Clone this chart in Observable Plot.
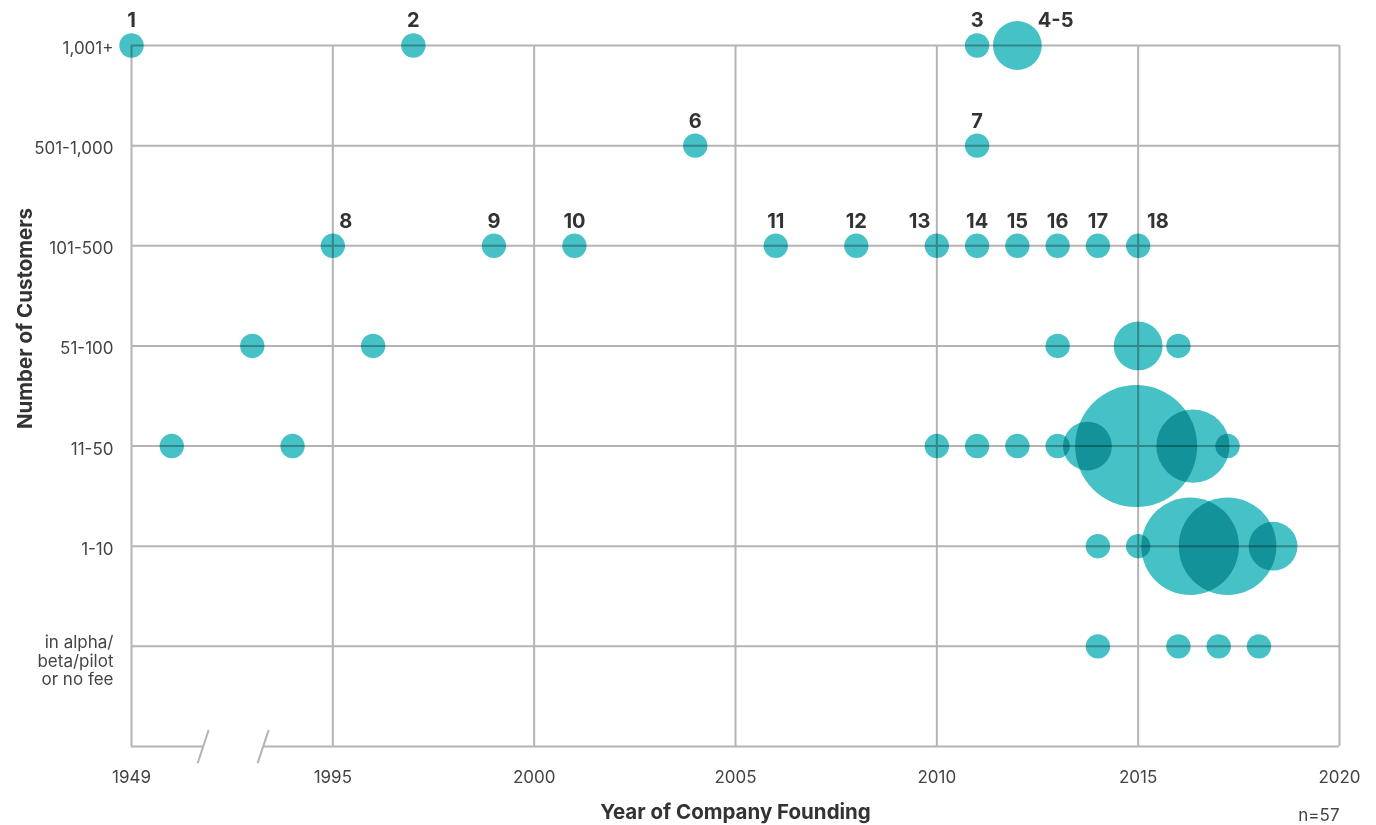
<!DOCTYPE html>
<html><head><meta charset="utf-8">
<script src="https://cdn.jsdelivr.net/npm/d3@7"></script>
<script src="https://cdn.jsdelivr.net/npm/@observablehq/plot@0.6"></script>
<style>
body{margin:0;background:#fff;}
#chart svg{display:block;}
</style>
</head><body><div id="chart"></div>
<script>
// Customer tiers, bottom to top (row index 1..7; 0 is the empty baseline row)
const tiers = ["in alpha/\nbeta/pilot\nor no fee", "1-10", "11-50", "51-100", "101-500", "501-1,000", "1,001+"];

// x axis: broken scale, the leftmost position stands for 1949
const xTickValues = [1990, 1995, 2000, 2005, 2010, 2015, 2020];
const xTickLabels = ["1949", "1995", "2000", "2005", "2010", "2015", "2020"];
const axisBreak = [1991.78, 1993.27];

// Companies (bubble position on the year axis, tier, number of companies)
const pointYear = [
  1990, 1997, 2011, 2012,
  2004, 2011,
  1995, 1999, 2001, 2006, 2008, 2010, 2011, 2012, 2013, 2014, 2015,
  1993, 1996, 2013, 2015, 2016,
  1991, 1994, 2010, 2011, 2012, 2013, 2013.74, 2014.95, 2016.36, 2017.22,
  2014, 2015, 2016.29, 2017.22, 2018.35,
  2014, 2016, 2017, 2018
];
const pointTier = [
  "1,001+", "1,001+", "1,001+", "1,001+",
  "501-1,000", "501-1,000",
  "101-500", "101-500", "101-500", "101-500", "101-500", "101-500", "101-500", "101-500", "101-500", "101-500", "101-500",
  "51-100", "51-100", "51-100", "51-100", "51-100",
  "11-50", "11-50", "11-50", "11-50", "11-50", "11-50", "11-50", "11-50", "11-50", "11-50",
  "1-10", "1-10", "1-10", "1-10", "1-10",
  tiers[0], tiers[0], tiers[0], tiers[0]
];
const pointCount = [
  1, 1, 1, 2,
  1, 1,
  1, 1, 1, 1, 1, 1, 1, 1, 1, 1, 1,
  1, 1, 1, 2, 1,
  1, 1, 1, 1, 1, 1, 2, 5, 3, 1,
  1, 1, 4, 4, 2,
  1, 1, 1, 1
];

// Numbered annotations
const labelText = ["1", "2", "3", "4-5", "6", "7", "8", "9", "10", "11", "12", "13", "14", "15", "16", "17", "18"];
const labelYear = [1990, 1997, 2011, 2012.95, 2004, 2011, 1995.32, 1999, 2001, 2006, 2008, 2009.57, 2011, 2012, 2013, 2014, 2015.49];
const labelTier = ["1,001+", "1,001+", "1,001+", "1,001+", "501-1,000", "501-1,000",
  "101-500", "101-500", "101-500", "101-500", "101-500", "101-500", "101-500", "101-500", "101-500", "101-500", "101-500"];

const totalN = "n=57";

// ---- build tables
const row = t => tiers.indexOf(t) + 1;
const points = pointYear.map((x, i) => ({x, y: row(pointTier[i]), n: pointCount[i]}));
const labels = labelText.map((t, i) => ({t, x: labelYear[i], y: row(labelTier[i])}));
const rowIdx = tiers.map((t, i) => ({t, y: i + 1}));
const ticks = xTickValues.map((v, i) => ({v, t: xTickLabels[i]}));
const baseSegments = [[xTickValues[0], axisBreak[0]], [axisBreak[1], xTickValues[xTickValues.length - 1]]];

const GRID = "#b6b3b3";
const TEAL = "#46c1c6";

const chart = Plot.plot({
  width: 1376,
  height: 825,
  marginLeft: 131,
  marginRight: 37,
  marginTop: 45,
  marginBottom: 79,
  x: {domain: [1990, 2020], axis: null},
  y: {domain: [0, 7], axis: null},
  r: {type: "linear", domain: [0, 5], range: [0, 61]},
  style: {fontFamily: "Inter, Lato, sans-serif", background: "#fff", overflow: "visible"},
  marks: [
    // horizontal grid
    Plot.ruleY(rowIdx, {y: "y", stroke: GRID, strokeWidth: 2}),
    // vertical grid
    Plot.ruleX(ticks, {x: "v", y1: () => 0, y2: () => 7, stroke: GRID, strokeWidth: 2}),
    // broken baseline
    Plot.ruleY(baseSegments, {y: () => 0, x1: d => d[0], x2: d => d[1], stroke: GRID, strokeWidth: 2}),
    Plot.link(axisBreak, {x1: d => d + 0.137, y1: () => 0.166, x2: d => d - 0.137, y2: () => -0.166, stroke: GRID, strokeWidth: 2}),
    // bubbles
    Plot.dot(points, {x: "x", y: "y", r: "n", fill: TEAL, stroke: "none"}),
    // annotations
    Plot.text(labels, {x: "x", y: "y", text: "t", dy: -24.5, fontSize: 20, fontWeight: "bold", fill: "#333"}),
    // y tick labels
    Plot.text(rowIdx.filter(d => d.y > 1), {frameAnchor: "left", y: "y", text: "t", textAnchor: "end", dx: -18, dy: 3, fontSize: 17, fill: "#444"}),
    Plot.text(rowIdx.filter(d => d.y === 1), {frameAnchor: "left", y: "y", text: "t", textAnchor: "end", dx: -18, dy: -11, lineAnchor: "top", lineHeight: 1.08, fontSize: 17, fill: "#444"}),
    // x tick labels
    Plot.text(ticks, {x: "v", y: () => 0, text: "t", lineAnchor: "bottom", dy: 36, fontSize: 17, fill: "#444"}),
    // axis titles
    Plot.text(["Year of Company Founding"], {frameAnchor: "bottom", text: d => d, lineAnchor: "bottom", dy: 72, fontSize: 20.5, fontWeight: "bold", fill: "#333"}),
    Plot.text(["Number of Customers"], {frameAnchor: "top-left", text: d => d, rotate: -90, textAnchor: "middle", dx: -114, dy: 273, fontSize: 20.5, fontWeight: "bold", fill: "#333"}),
    Plot.text([totalN], {frameAnchor: "bottom-right", text: d => d, textAnchor: "end", lineAnchor: "bottom", dy: 74, fontSize: 17, fill: "#444"})
  ]
});

chart.querySelectorAll("circle").forEach(c => c.style.mixBlendMode = "multiply");
document.getElementById("chart").appendChild(chart);
</script>
</body></html>
